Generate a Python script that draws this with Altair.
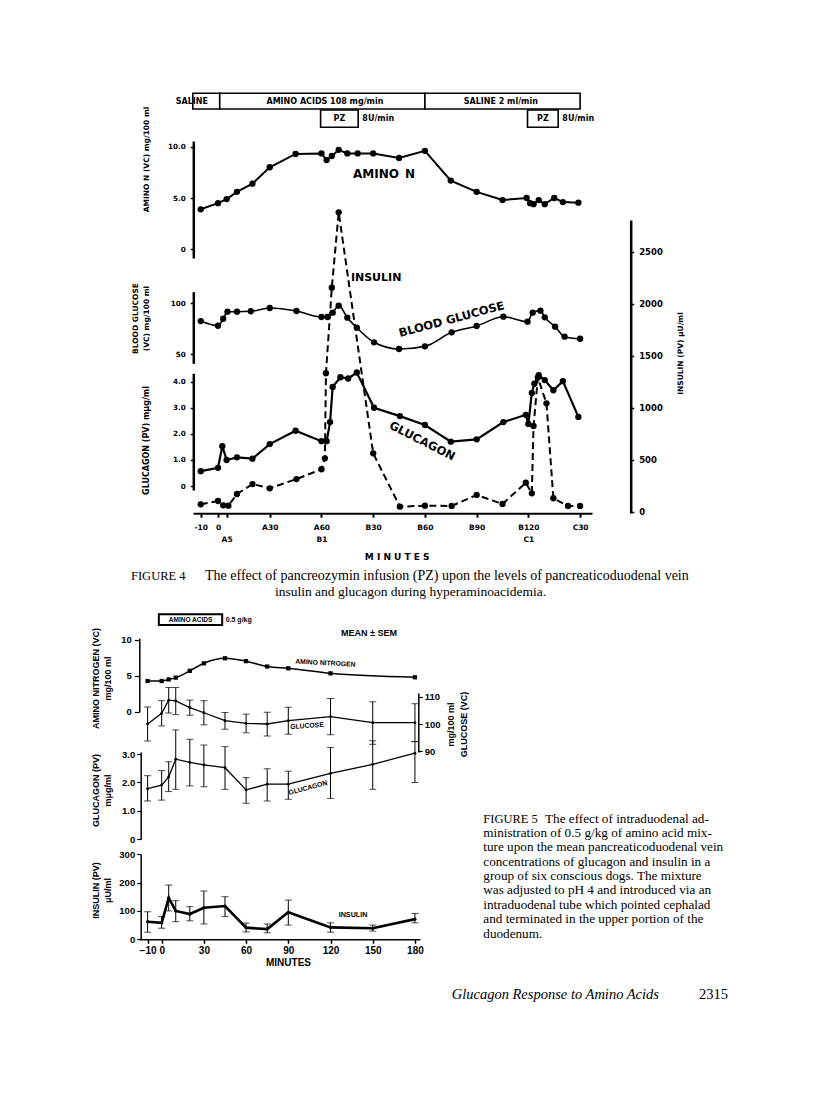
import altair as alt
import pandas as pd

# ---------------- Figure 4 data (composite minute key: A period 0..60, B = 60+n, C = 180+n) ----------------
f4_amino_t = [-10, 0, 5, 11, 20, 30, 45, 60, 63, 66, 70, 75, 81, 90, 105, 120, 135, 150, 165, 179, 181, 183, 186, 189.5, 195, 200, 209]
f4_amino_v = [3.9, 4.5, 4.9, 5.6, 6.4, 8.0, 9.3, 9.35, 8.7, 9.1, 9.7, 9.35, 9.35, 9.35, 8.9, 9.6, 6.7, 5.6, 4.8, 5.0, 4.5, 4.4, 4.8, 4.4, 5.0, 4.6, 4.55]

f4_glucose_t = [-10, 0, 3, 5.5, 11, 19, 30, 45.5, 60, 63.5, 66.5, 70, 75, 80.5, 90.5, 105, 120, 135.5, 150, 165.5, 179.5, 182.5, 187, 189.5, 195.5, 201, 210]
f4_glucose_v = [82.6, 78, 84.9, 91.8, 91.8, 92.2, 95.4, 92.5, 86.6, 86.6, 90.8, 97.7, 85.9, 76.1, 61.8, 55.2, 57.8, 71.6, 77.8, 86.9, 82, 90.8, 92.8, 86.3, 77.1, 67.3, 65.3]

f4_glucagon_t = [-10, 0, 2.5, 5, 11, 20, 30, 45, 60, 63, 65, 66.5, 71, 75.5, 80.5, 90.5, 105.5, 120, 135, 150, 165.5, 178.5, 180, 182, 183.5, 186, 189.5, 194.5, 200, 209]
f4_glucagon_v = [0.57, 0.70, 1.53, 1.0, 1.10, 1.05, 1.61, 2.12, 1.72, 1.72, 2.45, 3.80, 4.17, 4.12, 4.35, 3.0, 2.68, 2.34, 1.70, 1.79, 2.45, 2.73, 2.38, 3.57, 3.92, 4.25, 4.06, 3.67, 4.02, 2.65]

f4_insulin_t = [-10, 0, 3, 6, 11, 20, 30, 45.5, 60, 62, 62.6, 66, 70, 90, 105.5, 120, 135.5, 150, 165, 178.5, 182, 183, 185.5, 190.5, 194.5, 203, 210]
f4_insulin_v = [71, 103, 61, 58, 170, 266, 225, 314, 408, 513, 1331, 2154, 2879, 561, 48, 58, 55, 161, 74, 279, 177, 824, 1290, 1042, 129, 55, 55]

f4_xtick_vals = [-10, 0, 5, 30, 60, 90, 120, 150, 180, 210]
f4_xtick_top = ['-10', '0', '', 'A30', 'A60', 'B30', 'B60', 'B90', 'B120', 'C30']
f4_xtick_bot = ['', '', 'A5', '', 'B1', '', '', '', 'C1', '']

f4_bar_start = [-14.6, 1, 120]
f4_bar_end = [1, 120, 210]
f4_bar_label = ['SALINE', 'AMINO ACIDS 108 mg/min', 'SALINE 2 ml/min']
f4_bar_label_t = [-15.2, 62, 164]
f4_pz_start = [59.5, 179.5]
f4_pz_end = [81.3, 197.3]

# ---------------- Figure 5 data ----------------
f5_t = [-10, 0, 5, 10, 20, 30, 45, 60, 75, 90, 120, 150, 180]
f5_amino_t = [-10, 0, 5, 10, 20, 30, 45, 60, 75, 90, 120, 180]
f5_amino_v = [4.28, 4.28, 4.5, 4.75, 5.7, 6.75, 7.45, 7.05, 6.3, 6.05, 5.35, 4.8]
f5_glucose_v = [100, 103.9, 108.7, 108.4, 106, 104.1, 101.2, 100.2, 100, 101.2, 102.7, 100.5, 100.5]
f5_glucose_hi = [106.2, 108.5, 113.3, 113.3, 108.7, 108.5, 104.2, 103.6, 104.3, 106.1, 109.3, 108.1, 107.4]
f5_glucose_lo = [93.8, 99.3, 104.0, 103.4, 103.2, 99.7, 98.1, 96.8, 95.6, 96.3, 96.1, 92.6, 93.6]
f5_glucagon_v = [1.78, 1.91, 2.2, 2.82, 2.71, 2.62, 2.52, 1.74, 1.94, 1.94, 2.32, 2.64, 3.03]
f5_glucagon_hi = [2.24, 2.42, 2.73, 3.85, 3.52, 3.32, 3.26, 2.17, 2.48, 2.40, 3.23, 3.47, 3.44]
f5_glucagon_lo = [1.35, 1.38, 1.68, 1.76, 1.88, 1.85, 1.76, 1.27, 1.35, 1.41, 1.44, 1.76, 2.00]
f5_insulin_v = [62, 58, 146, 100, 89, 111, 117, 41, 36, 95, 42, 39, 71]
f5_insulin_hi = [97, 80, 191, 136, 115, 170, 150, 57, 54, 138, 58, 50, 91]
f5_insulin_lo = [25, 39, 100, 62, 65, 54, 80, 26, 23, 50, 25, 29, 58]
f5_xtick_vals = [-10, 0, 30, 60, 90, 120, 150, 180]
f5_box_start = [-2]
f5_box_end = [43]

fig4_caption_lead = "FIGURE 4"
fig4_caption_1 = "The effect of pancreozymin infusion (PZ) upon the levels of pancreaticoduodenal vein"
fig4_caption_2 = "insulin and glucagon during hyperaminoacidemia."
fig5_caption_lead = "FIGURE 5"
fig5_caption_first = "The effect of intraduodenal ad-"
fig5_caption_rest = [
    "ministration of 0.5 g/kg of amino acid mix-",
    "ture upon the mean pancreaticoduodenal vein",
    "concentrations of glucagon and insulin in a",
    "group of six conscious dogs. The mixture",
    "was adjusted to pH 4 and introduced via an",
    "intraduodenal tube which pointed cephalad",
    "and terminated in the upper portion of the",
    "duodenum.",
]
footer_title = "Glucagon Response to Amino Acids"
footer_page = "2315"

# ---------------- layout helpers ----------------
W, H, M = 800, 1084, 8


def P(v):
    return v - M


def S(domain, r0, r1):
    return alt.Scale(domain=domain, range=[P(r0), P(r1)], nice=False, zero=False)


F4 = "DejaVu Sans"
F5 = "Liberation Sans"
SERIF = "Liberation Serif"

X4 = S([-14.5, 216.9], 193, 592)
Y4A = S([-0.85, 10.55], 258, 141.1)
Y4G = S([41.2, 111.4], 363.3, 291.7)
Y4C = S([-0.15, 4.32], 490, 373.3)
Y4I = S([-12.5, 2805], 513, 220)

X5 = S([-15.9, 183.6], 139.3, 420)
Y5A = S([0, 10.25], 711.7, 638.2)
Y5G = S([89.8, 111.3], 752, 693)
Y5C = S([0, 3.07], 839.3, 752.1)
Y5I = S([0, 300], 939.3, 854.1)


def axis(font, **kw):
    base = dict(labelFont=font, labelFontWeight='bold', labelColor='black',
                titleFont=font, titleFontWeight='bold', titleColor='black',
                domainColor='black', tickColor='black', grid=False,
                labelOverlap=False, labelFlush=False,
                titleAngle=270, titleAlign='center', titleBaseline='middle')
    base.update(kw)
    return alt.Axis(**base)


one_dec = "datum.value == 0 ? '0' : format(datum.value, '.1f')"

layers = []


def series(t, v, xs, ys, xaxis=None, yaxis=None, dash=None, width=2.0,
           interp='linear', pt=40, shape='circle'):
    df = pd.DataFrame({'t': t, 'v': v})
    kw = dict(color='black', strokeWidth=width, interpolate=interp)
    if dash:
        kw['strokeDash'] = dash
    layers.append(alt.Chart(df).mark_line(**kw).encode(
        x=alt.X('t:Q', scale=xs, axis=xaxis),
        y=alt.Y('v:Q', scale=ys, axis=yaxis)))
    if pt:
        layers.append(alt.Chart(df).mark_point(filled=True, size=pt, shape=shape,
                                               color='black', opacity=1).encode(
            x=alt.X('t:Q', scale=xs, axis=None),
            y=alt.Y('v:Q', scale=ys, axis=None)))


def errbars(t, lo, hi, xs, ys, cap=7):
    df = pd.DataFrame({'t': t, 'lo': lo, 'hi': hi})
    x = alt.X('t:Q', scale=xs, axis=None)
    layers.append(alt.Chart(df).mark_rule(color='black', strokeWidth=1).encode(
        x=x, y=alt.Y('lo:Q', scale=ys, axis=None), y2='hi:Q'))
    for c in ['lo', 'hi']:
        layers.append(alt.Chart(df).mark_tick(color='black', orient='horizontal',
                                              size=cap, thickness=1).encode(
            x=x, y=alt.Y(f'{c}:Q', scale=ys, axis=None)))


def note(text, t, v, xs, ys, size, font, angle=0):
    df = pd.DataFrame({'t': [t], 'v': [v], 'label': [text]})
    layers.append(alt.Chart(df).mark_text(font=font, fontWeight='bold', fontSize=size,
                                          angle=angle, color='black', align='center',
                                          baseline='middle').encode(
        x=alt.X('t:Q', scale=xs, axis=None),
        y=alt.Y('v:Q', scale=ys, axis=None),
        text='label:N'))


def free_text(lines, x, y, size, font=SERIF, align='left', style='normal', weight='normal', lh=14.4):
    txt = lines if isinstance(lines, str) else list(lines)
    layers.append(alt.Chart(pd.DataFrame({'a': [0]})).mark_text(
        font=font, fontSize=size, fontStyle=style, fontWeight=weight, align=align,
        baseline='middle', color='black', lineHeight=lh).encode(
        x=alt.value(P(x)), y=alt.value(P(y)), text=alt.value(txt)))


# ---------------- Figure 4 ----------------
label_expr4 = "".join(
    f"datum.value == {v} ? ['{a}', '{b}'] : " for v, a, b in zip(f4_xtick_vals, f4_xtick_top, f4_xtick_bot)
) + "''"

ax4_x = axis(F4, orient='bottom', offset=P(513.3) - H, values=f4_xtick_vals, labelExpr=label_expr4,
             labelFontSize=7.5, labelLineHeight=12.5, labelBaseline='top', labelPadding=6,
             tickSize=4, tickWidth=2, domainWidth=2, title='M I N U T E S', titleAngle=0,
             titleFontSize=9, titleX=P(396.7), titleY=556 - 513.3)
ax4_amino = axis(F4, orient='left', offset=-P(193.3), values=[0, 5, 10], labelExpr=one_dec,
                 labelFontSize=7.2, tickSize=3, tickWidth=1.5, labelPadding=5, domainWidth=2.5,
                 title='AMINO N (VC) mg/100 ml', titleFontSize=7.5, titleX=146.7 - 193.3, titleY=P(159))
ax4_glu = axis(F4, orient='left', offset=-P(193.3), values=[50, 100],
               labelFontSize=7.2, tickSize=3, tickWidth=1.5, labelPadding=5, domainWidth=2.5,
               title=['BLOOD GLUCOSE', '(VC) mg/100 ml'], titleFontSize=7.5, titleLineHeight=11.7,
               titleX=135 - 193.3, titleY=P(318))
ax4_gcg = axis(F4, orient='left', offset=-P(193.3), values=[0, 1, 2, 3, 4], labelExpr=one_dec,
               labelFontSize=7.2, tickSize=3, tickWidth=1.5, labelPadding=5, domainWidth=2.5,
               title='GLUCAGON  (PV)  m\u03bcg/ml', titleFontSize=8, titleX=146.7 - 193.3, titleY=P(440))
ax4_ins = axis(F4, orient='right', offset=P(630.7) - W, values=[0, 500, 1000, 1500, 2000, 2500],
               format='d', labelFontSize=8.5, tickSize=3, tickWidth=1.5, labelPadding=5, domainWidth=2.5,
               title='INSULIN (PV) \u03bcU/ml', titleFontSize=7.5, titleX=680 - 630.7, titleY=P(353))

# treatment bars
bars = pd.DataFrame({'s': f4_bar_start, 'e': f4_bar_end, 'lab': f4_bar_label, 'lt': f4_bar_label_t})
layers.append(alt.Chart(bars).mark_rect(fill='white', stroke='black', strokeWidth=1.6).encode(
    x=alt.X('s:Q', scale=X4, axis=None), x2='e:Q', y=alt.value(P(93.3)), y2=alt.value(P(109))))
layers.append(alt.Chart(bars).mark_text(font=F4, fontWeight='bold', fontSize=8, color='black',
                                        align='center', baseline='middle').encode(
    x=alt.X('lt:Q', scale=X4, axis=None), y=alt.value(P(101.5)), text='lab:N'))
pz = pd.DataFrame({'s': f4_pz_start, 'e': f4_pz_end})
pz['m'] = (pz['s'] + pz['e']) / 2
pz['d'] = pz['e'] + 2.4
pz['lab'] = 'PZ'
pz['dose'] = '8U/min'
layers.append(alt.Chart(pz).mark_rect(fill='white', stroke='black', strokeWidth=1.6).encode(
    x=alt.X('s:Q', scale=X4, axis=None), x2='e:Q', y=alt.value(P(110)), y2=alt.value(P(127.3))))
layers.append(alt.Chart(pz).mark_text(font=F4, fontWeight='bold', fontSize=8, color='black',
                                      align='center', baseline='middle').encode(
    x=alt.X('m:Q', scale=X4, axis=None), y=alt.value(P(118.7)), text='lab:N'))
layers.append(alt.Chart(pz).mark_text(font=F4, fontWeight='bold', fontSize=8, color='black',
                                      align='left', baseline='middle').encode(
    x=alt.X('d:Q', scale=X4, axis=None), y=alt.value(P(118.7)), text='dose:N'))

series(f4_amino_t, f4_amino_v, X4, Y4A, xaxis=ax4_x, yaxis=ax4_amino, width=2)
series(f4_glucose_t, f4_glucose_v, X4, Y4G, yaxis=ax4_glu, width=1.6, interp='monotone')
series(f4_glucagon_t, f4_glucagon_v, X4, Y4C, yaxis=ax4_gcg, width=2.2)
series(f4_insulin_t, f4_insulin_v, X4, Y4I, yaxis=ax4_ins, width=2, dash=[7, 4])

note('AMINO\u2002N', 96.3, 7.3, X4, Y4A, 12, F4)
note('INSULIN', 91.7, 2247, X4, Y4I, 11, F4)
note('BLOOD GLUCOSE', 135.6, 83.6, X4, Y4G, 11.5, F4, angle=345)
note('GLUCAGON', 118.2, 1.70, X4, Y4C, 11.5, F4, angle=27)

free_text(fig4_caption_lead, 131, 576, 12.5)
free_text(fig4_caption_1, 205, 576, 14)
free_text(fig4_caption_2, 410.5, 591.5, 13.5, align='center')

# ---------------- Figure 5 ----------------
ax5_x = axis(F5, orient='bottom', offset=P(939.3) - H, values=f5_xtick_vals,
             labelFontSize=10, tickSize=4, tickWidth=1.5, domainWidth=1.5, labelPadding=2,
             title='MINUTES', titleAngle=0, titleFontSize=10, titleX=P(288), titleY=962.7 - 939.3)
ax5_amino = axis(F5, orient='left', offset=-P(139.3), values=[0, 5, 10],
                 labelFontSize=9.5, tickSize=5, tickWidth=1.2, labelPadding=3, domainWidth=1.5,
                 title=['AMINO NITROGEN (VC)', 'mg/100 ml'], titleFontSize=9, titleLineHeight=12,
                 titleX=95 - 139.3, titleY=P(678))
ax5_glu = axis(F5, orient='right', offset=P(418.3) - W, values=[90, 100, 110],
               labelFontSize=9.5, tickSize=4, tickWidth=1.2, labelPadding=2, domainWidth=1.5,
               title=['mg/100 ml', 'GLUCOSE (VC)'], titleFontSize=9, titleLineHeight=13,
               titleX=450 - 418.3, titleY=P(724))
ax5_gcg = axis(F5, orient='left', offset=-P(140.7), values=[0, 1, 2, 3], labelExpr=one_dec,
               labelFontSize=9.5, tickSize=4, tickWidth=1.2, labelPadding=2, domainWidth=1.5,
               title=['GLUCAGON (PV)', 'm\u03bcg/ml'], titleFontSize=9, titleLineHeight=12,
               titleX=95 - 140.7, titleY=P(790))
ax5_ins = axis(F5, orient='left', offset=-P(140.7), values=[0, 100, 200, 300],
               labelFontSize=9.5, tickSize=4, tickWidth=1.2, labelPadding=2, domainWidth=1.5,
               title=['INSULIN (PV)', '\u03bcU/ml'], titleFontSize=9, titleLineHeight=12,
               titleX=95 - 140.7, titleY=P(890))

box5 = pd.DataFrame({'s': f5_box_start, 'e': f5_box_end})
box5['m'] = (box5['s'] + box5['e']) / 2
box5['d'] = box5['e'] + 2.5
box5['lab'] = 'AMINO ACIDS'
box5['dose'] = '0.5 g/kg'
layers.append(alt.Chart(box5).mark_rect(fill='white', stroke='black', strokeWidth=2).encode(
    x=alt.X('s:Q', scale=X5, axis=None), x2='e:Q', y=alt.value(P(614.3)), y2=alt.value(P(625))))
layers.append(alt.Chart(box5).mark_text(font=F5, fontWeight='bold', fontSize=6.5, color='black',
                                        align='center', baseline='middle').encode(
    x=alt.X('m:Q', scale=X5, axis=None), y=alt.value(P(619.8)), text='lab:N'))
layers.append(alt.Chart(box5).mark_text(font=F5, fontWeight='bold', fontSize=7, color='black',
                                        align='left', baseline='middle').encode(
    x=alt.X('d:Q', scale=X5, axis=None), y=alt.value(P(619.8)), text='dose:N'))

errbars(f5_t, f5_glucose_lo, f5_glucose_hi, X5, Y5G)
errbars(f5_t, f5_glucagon_lo, f5_glucagon_hi, X5, Y5C)
errbars(f5_t, f5_insulin_lo, f5_insulin_hi, X5, Y5I)

series(f5_amino_t, f5_amino_v, X5, Y5A, xaxis=ax5_x, yaxis=ax5_amino, width=1.5,
       interp='monotone', pt=18, shape='square')
series(f5_t, f5_glucose_v, X5, Y5G, yaxis=ax5_glu, width=1.3, pt=8)
series(f5_t, f5_glucagon_v, X5, Y5C, yaxis=ax5_gcg, width=1.3, pt=8)
series(f5_t, f5_insulin_v, X5, Y5I, yaxis=ax5_ins, width=2.6, pt=10)

note('MEAN \u00b1 SEM', 147.3, 10.93, X5, Y5A, 9, F5)
note('AMINO NITROGEN', 116.4, 6.78, X5, Y5A, 6.8, F5, angle=3)
note('GLUCOSE', 103.3, 99.3, X5, Y5G, 6.8, F5, angle=356)
note('GLUCAGON', 104, 1.81, X5, Y5C, 6.8, F5, angle=345)
note('INSULIN', 136, 85.6, X5, Y5I, 7.2, F5)

free_text(fig5_caption_lead, 483.3, 818.5, 12.5)
free_text(fig5_caption_first, 545, 818.5, 13.2)
free_text(fig5_caption_rest, 483.3, 832.9, 13.2, lh=14.4)

free_text(footer_title, 451.7, 995, 14.5, style='italic')
free_text(footer_page, 699, 995, 14.5)

chart = alt.layer(*layers).resolve_scale(
    x='independent', y='independent'
).properties(
    width=W, height=H, padding=0, autosize=alt.AutoSizeParams(type='none'),
    background='white'
).configure_view(stroke=None)

chart.save("out.html", embed_options={"renderer": "svg", "actions": False})
